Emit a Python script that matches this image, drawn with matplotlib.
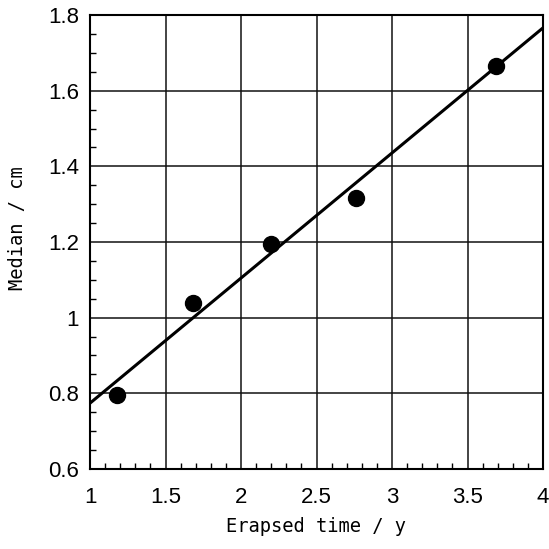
import matplotlib
matplotlib.use("Agg")
import matplotlib.pyplot as plt
from matplotlib.ticker import MultipleLocator
import numpy as np

# Data
elapsed_time = [1.18, 1.68, 2.20, 2.76, 3.69]
median_cm = [0.795, 1.04, 1.195, 1.315, 1.665]
fit_x = [1.0, 4.0]
fit_y = [0.774, 1.766]

x_ticks = [1, 1.5, 2, 2.5, 3, 3.5, 4]
x_ticklabels = ["1", "1.5", "2", "2.5", "3", "3.5", "4"]
y_ticks = [0.6, 0.8, 1.0, 1.2, 1.4, 1.6, 1.8]
y_ticklabels = ["0.6", "0.8", "1", "1.2", "1.4", "1.6", "1.8"]

fig = plt.figure(figsize=(5.49, 5.49), dpi=100)
ax = fig.add_axes([90/549, 1-469/549, 453/549, 454/549])

ax.plot(fit_x, fit_y, color="black", lw=2.2, zorder=3, solid_capstyle="butt")
ax.plot(elapsed_time, median_cm, "o", color="black", ms=11.5, zorder=4)

ax.set_xlim(1, 4)
ax.set_ylim(0.6, 1.8)
ax.set_xticks(x_ticks)
ax.set_xticklabels(x_ticklabels)
ax.set_yticks(y_ticks)
ax.set_yticklabels(y_ticklabels)
ax.xaxis.set_minor_locator(MultipleLocator(0.1))
ax.yaxis.set_minor_locator(MultipleLocator(0.05))

ax.grid(True, which="major", color="#111111", lw=1.1)
ax.set_axisbelow(True)
for s in ax.spines.values():
    s.set_linewidth(1.5)
    s.set_color("black")

ax.tick_params(which="major", direction="in", length=0, labelsize=16)
ax.tick_params(axis="x", which="major", pad=13)
ax.tick_params(axis="y", which="major", pad=8)
ax.tick_params(which="minor", direction="in", length=4, width=1, top=False, right=False)
for lab in ax.get_xticklabels() + ax.get_yticklabels():
    lab.set_family("Liberation Sans")

ax.set_xlabel("Erapsed time / y", family="DejaVu Sans Mono", fontsize=13.5)
ax.set_ylabel("Median / cm", family="DejaVu Sans Mono", fontsize=13.5)
ax.xaxis.set_label_coords(0.5, -0.105)
ax.yaxis.set_label_coords(-0.14, 0.53)

fig.savefig("out.png", dpi=100, facecolor="white")
